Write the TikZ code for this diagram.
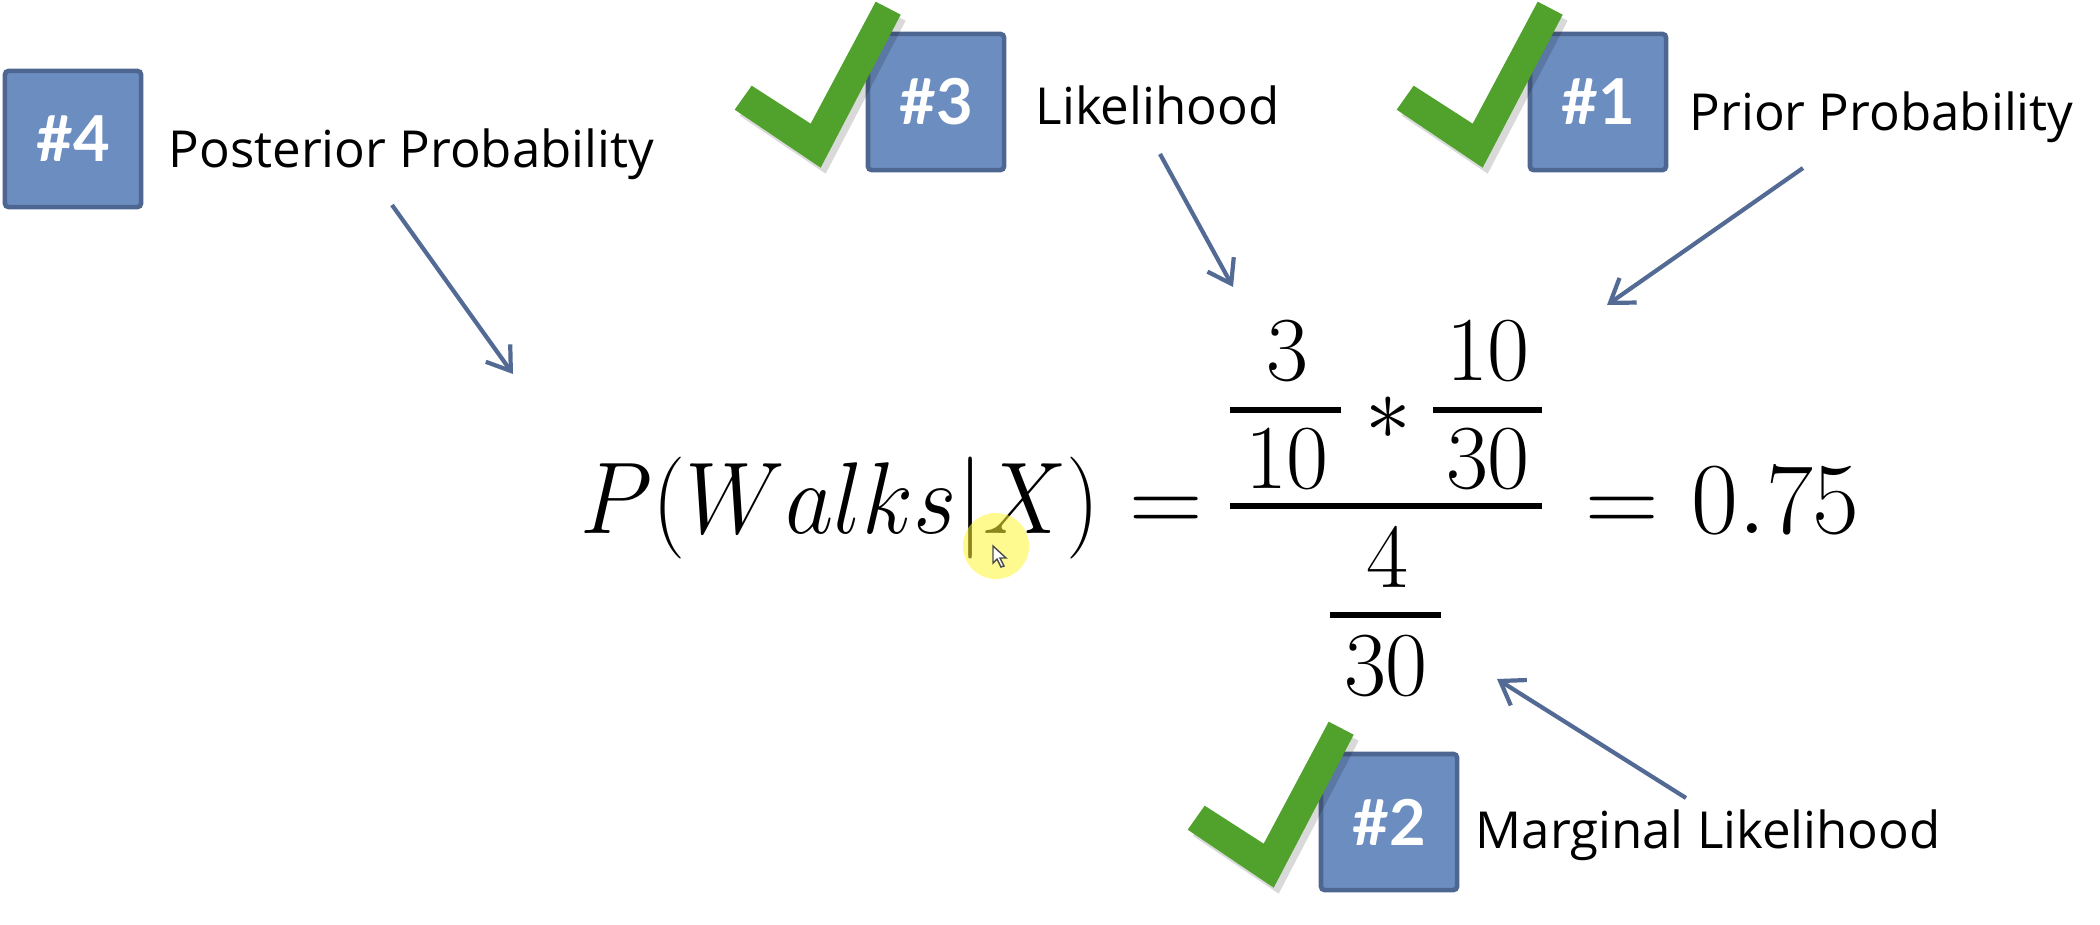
\RequirePackage{fix-cm}
\documentclass[tikz,border=0pt]{standalone}
\usepackage{amsmath}
\usepackage{fontspec}
\setmainfont{Lato}
\newfontfamily\labelfont{Open Sans}
\usepackage{tikz}
\usepackage{xcolor}
\usetikzlibrary{positioning,arrows.meta,calc}

\definecolor{boxfill}{RGB}{108,141,192}
\definecolor{boxline}{RGB}{78,102,146}
\definecolor{arrowblue}{RGB}{82,106,148}
\definecolor{tickgreen}{RGB}{80,162,44}

\tikzset{
  numbox/.style={draw=boxline, line width=1.3pt, fill=boxfill, rounded corners=1pt,
    minimum width=1.36cm, minimum height=1.36cm, inner sep=0pt, text=white,
    font=\fontsize{18}{21}\selectfont\bfseries},
  termlabel/.style={anchor=base west, inner sep=0pt, font=\labelfont\fontsize{14.5}{17}\selectfont},
  pointer/.style={-{Straight Barb[length=2.2mm,width=3mm]}, draw=arrowblue, line width=1.2pt},
  bigmath/.style={inner sep=0pt, font=\fontsize{29}{34}\selectfont},
  fracnum/.style={anchor=base, inner sep=0pt, font=\fontsize{26}{31}\selectfont},
  fracbar/.style={line width=1.7pt},
  tick/.pic={
    \fill[black, opacity=0.15, shift={(5,6)}] (-131,78) -- (-45,136) -- (35,-17) -- (10,-30) -- (-55,92) -- (-114,54) -- cycle;
    \fill[tickgreen] (-131,78) -- (-45,136) -- (35,-17) -- (10,-30) -- (-55,92) -- (-114,54) -- cycle;
  }
}

\begin{document}
\begin{tikzpicture}[x=0.01cm, y=-0.01cm]
\useasboundingbox (0,0) rectangle (2100,924);

% numbered boxes and ticks
\foreach \n/\x/\y in {4/73/139, 3/936/102, 1/1598/102, 2/1389/822} {
  \node[numbox] (b\n) at (\x,\y) {\#\n};
}
\foreach \n in {3,1,2} {
  \pic at (b\n.north west) {tick};
}

% labels
\node[termlabel] (l4) at (168,167) {Posterior Probability};
\node[termlabel] (l3) at (1035,124) {Likelihood};
\node[termlabel] (l1) at (1689,130) {Prior Probability};
\node[termlabel] (l2) at (1475,848) {Marginal Likelihood};

% formula
\node[bigmath, anchor=base west] (lhs) at (580,533) {\scalebox{0.92}[1]{$P(Walks|X)$}};
\node[bigmath, anchor=base] (eq1) at (1166,533) {$=$};
\node[fracnum] (n3) at (1287,380) {$3$};
\node[fracnum] (d10) at (1287,488) {$10$};
\node[fracnum, anchor=center] (star) at (1388,418) {$*$};
\node[fracnum] (n10) at (1488,380) {$10$};
\node[fracnum] (d30) at (1488,488) {$30$};
\node[fracnum] (n4) at (1387,587) {$4$};
\node[fracnum] (d30b) at (1386,695) {$30$};
\node[bigmath, anchor=base] (eq2) at (1622,533) {$=$};
\node[bigmath, anchor=base west] (res) at (1691,533) {$0.75$};

\draw[fracbar] (1230,410) -- (1341,410);
\draw[fracbar] (1433,410) -- (1542,410);
\draw[fracbar] (1230,506) -- (1542,506);
\draw[fracbar] (1330,615) -- (1441,615);

% arrows
\coordinate (f4) at (392,205);  \coordinate (t4) at (513,374);
\coordinate (f3) at (1160,154); \coordinate (t3) at (1233,287);
\coordinate (f1) at (1803,168); \coordinate (t1) at (1607,305);
\coordinate (f2) at (1686,798); \coordinate (t2) at (1497,679);
\foreach \n in {4,3,1,2} {
  \draw[pointer] (f\n) -- (t\n);
}

% cursor highlight
\fill[yellow!80, opacity=0.55] (996,546) circle[radius=0.33cm];
\filldraw[fill=white, draw=black!70, line width=0.4pt] (993,546) -- (993,563) -- (997,559) -- (1001,567) -- (1004,566) -- (1000,558) -- (1006,558) -- cycle;

\end{tikzpicture}
\end{document}
